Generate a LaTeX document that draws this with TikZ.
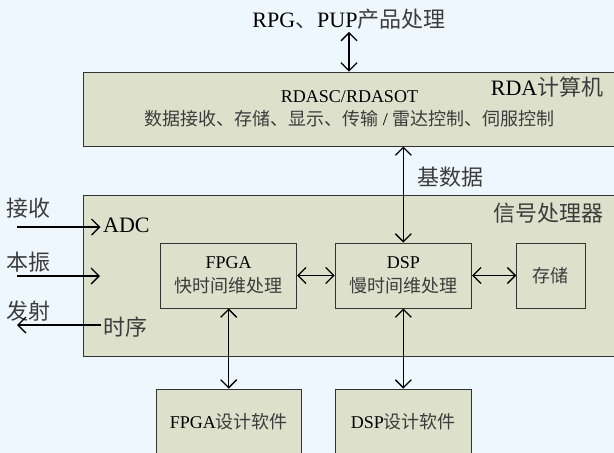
\documentclass[tikz,border=0pt]{standalone}
\usepackage{fontspec}
\setmainfont{Liberation Serif}
\newfontfamily\cjk{Noto Sans CJK SC}
\usetikzlibrary{arrows.meta}
\definecolor{bg}{RGB}{239,247,254}
\definecolor{boxfill}{RGB}{221,224,203}
\definecolor{cjkgray}{RGB}{60,60,60}
\newcommand{\zh}[1]{{\cjk\color{cjkgray}#1}}
\begin{document}
\begin{tikzpicture}[x=1pt,y=-1pt,
  box/.style={draw=black!80, fill=boxfill, line width=0.8pt, inner sep=0pt},
  big/.style={font=\fontsize{22}{26}\selectfont, inner sep=2.5pt},
  small/.style={font=\fontsize{18}{23.5}\selectfont, align=center},
  tip/.tip={Straight Barb[length=8pt,width=16pt]},
  arrtwo/.style={{tip}-{tip}, line width=1.3pt},
  arrone/.style={-{tip}, line width=1.3pt}]
\fill[bg] (0,0) rectangle (614,453);
\useasboundingbox (0,0) rectangle (614,453);
\clip (0,0) rectangle (614,453);

% upper computer
\node[big] (rpg) at (349,19) {RPG\zh{、}PUP\zh{产品处理}};
\node[box, small, minimum width=533pt, minimum height=74pt] (rda) at (349.5,109)
  {RDASC/RDASOT\\\zh{数据接收、存储、显示、传输} / \zh{雷达控制、伺服控制}};
\node[big, anchor=east] (rdalbl) at (606,87) {RDA\zh{计算机}};
\node[big] (base) at (450,177) {\zh{基数据}};

% signal processor
\node[box, minimum width=533pt, minimum height=161pt] (sig) at (349.5,275.5) {};
\node[big, anchor=east] (siglbl) at (606,213) {\zh{信号处理器}};
\node[box, small, minimum width=136pt, minimum height=65pt] (fpga) at (228.7,275.5)
  {FPGA\\\zh{快时间维处理}};
\node[box, small, minimum width=136.7pt, minimum height=65pt] (dsp) at (403.35,275.5)
  {DSP\\\zh{慢时间维处理}};
\node[box, small, minimum width=68.3pt, minimum height=65pt] (store) at (550.85,275.5)
  {\zh{存储}};

% software boxes
\node[box, small, minimum width=145.7pt, minimum height=65pt] (fpgasw) at (228.85,421.5)
  {FPGA\zh{设计软件}};
\node[box, small, minimum width=136.7pt, minimum height=65pt] (dspsw) at (403.35,421.5)
  {DSP\zh{设计软件}};

% left side labels
\node[big, anchor=west] (rx) at (4,208) {\zh{接收}};
\node[big, anchor=west] (lo) at (4,262) {\zh{本振}};
\node[big, anchor=west] (tx) at (4,311) {\zh{发射}};
\node[big, anchor=west] (adc) at (100.5,225) {ADC};
\node[big, anchor=west] (timing) at (100.5,327) {\zh{时序}};
\coordinate (rxin) at (17,227);
\coordinate (loin) at (17,276);
\coordinate (loend) at (100,276);
\coordinate (txout) at (17,325);

% connectors
\draw[arrtwo] (rpg.south) -- (rpg.south |- rda.north);
\draw[arrtwo] (rda.south -| dsp.north) -- (dsp.north);
\draw[arrtwo] (fpga.east) -- (dsp.west);
\draw[arrtwo] (dsp.east) -- (store.west);
\draw[arrtwo] (fpga.south) -- (fpga.south |- fpgasw.north);
\draw[arrtwo] (dsp.south) -- (dspsw.north);
\draw[arrone] (rxin) -- (rxin -| adc.west);
\draw[arrone] (loin) -- (loend);
\draw[arrone] (timing.west |- txout) -- (txout);
\end{tikzpicture}
\end{document}
